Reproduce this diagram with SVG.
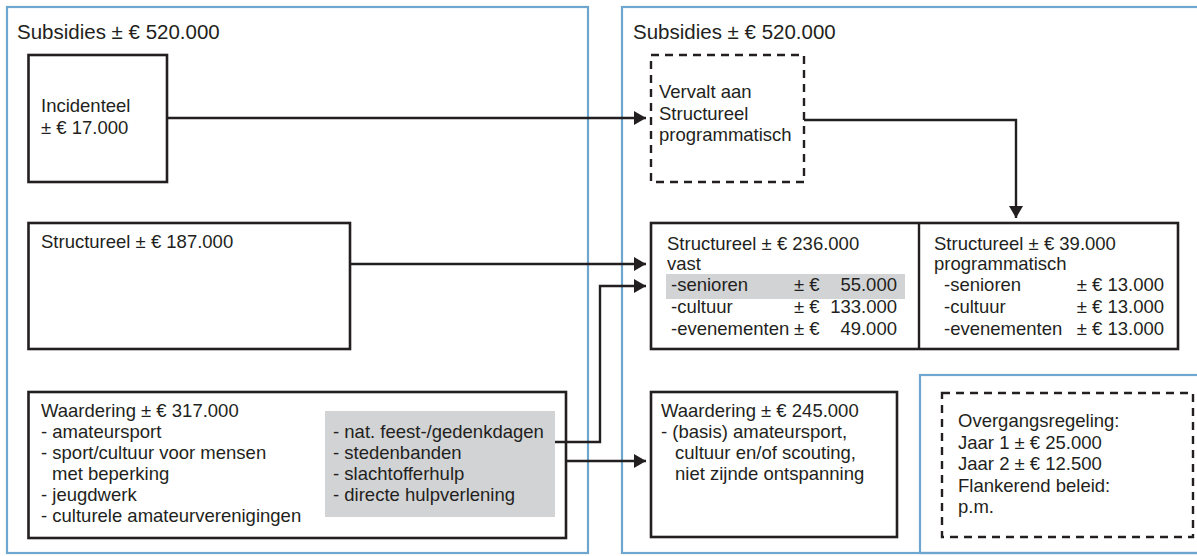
<svg xmlns="http://www.w3.org/2000/svg" width="1197" height="556" viewBox="0 0 1197 556">
<style>
text{font-family:"Liberation Sans",Arial,sans-serif;font-size:18.5px;fill:#231f20}
.title{font-size:20.5px}
.blue{fill:none;stroke:#6ea6cf;stroke-width:2.2}
.box{fill:#fff;stroke:#231f20;stroke-width:2.6}
.dash{fill:#fff;stroke:#231f20;stroke-width:2.4;stroke-dasharray:8 6}
.gray{fill:#d2d3d5}
.con{fill:none;stroke:#231f20;stroke-width:2.4}
.end{text-anchor:end}
</style>
<defs>
<marker id="arr" markerUnits="userSpaceOnUse" markerWidth="13" markerHeight="14" refX="12" refY="7" orient="auto">
<path d="M0,0 L12,7 L0,14 z" fill="#231f20"/>
</marker>
</defs>
<rect width="1197" height="556" fill="#fff"/>
<g id="panel-left">
<rect class="blue" x="7" y="7" width="581" height="546"/>
<text class="title" x="17" y="39">Subsidies ± € 520.000</text>
</g>
<g id="panel-right">
<rect class="blue" x="622" y="7" width="590" height="546"/>
<text class="title" x="633" y="39">Subsidies ± € 520.000</text>
</g>
<g id="panel-transition">
<rect class="blue" x="920" y="375" width="290" height="178" fill="#fff"/>
</g>
<g id="incidenteel">
<rect class="box" x="28.5" y="55" width="138.5" height="127"/>
<text x="41" y="112">Incidenteel</text>
<text x="41" y="133.5">± € 17.000</text>
</g>
<g id="vervalt">
<rect class="dash" x="651" y="55" width="153" height="127"/>
<text x="659" y="98">Vervalt aan</text>
<text x="659" y="119.5">Structureel</text>
<text x="659" y="141">programmatisch</text>
</g>
<g id="structureel-oud">
<rect class="box" x="28.5" y="223" width="321.5" height="126"/>
<text x="41" y="248">Structureel ± € 187.000</text>
</g>
<g id="structureel-nieuw">
<rect class="box" x="651" y="223" width="527" height="126"/>
<line x1="919" y1="223" x2="919" y2="349" stroke="#231f20" stroke-width="2.4"/>
<rect class="gray" x="666" y="274" width="239" height="25"/>
<text x="667" y="250">Structureel ± € 236.000</text>
<text x="667" y="270">vast</text>
<text x="671" y="291">-senioren</text>
<text x="794" y="291">± €</text>
<text class="end" x="897" y="291">55.000</text>
<text x="671" y="313">-cultuur</text>
<text x="794" y="313">± €</text>
<text class="end" x="897" y="313">133.000</text>
<text x="671" y="335">-evenementen</text>
<text x="794" y="335">± €</text>
<text class="end" x="897" y="335">49.000</text>
<text x="934" y="250">Structureel ± € 39.000</text>
<text x="934" y="270">programmatisch</text>
<text x="944" y="291">-senioren</text>
<text class="end" x="1164" y="291">± € 13.000</text>
<text x="944" y="313">-cultuur</text>
<text class="end" x="1164" y="313">± € 13.000</text>
<text x="944" y="335">-evenementen</text>
<text class="end" x="1164" y="335">± € 13.000</text>
</g>
<g id="waardering-oud">
<rect class="box" x="28.5" y="392" width="537.5" height="146"/>
<rect class="gray" x="325" y="411" width="230" height="106"/>
<text x="41" y="417">Waardering ± € 317.000</text>
<text x="41" y="438">- amateursport</text>
<text x="41" y="459">- sport/cultuur voor mensen</text>
<text x="52" y="480">met beperking</text>
<text x="41" y="501">- jeugdwerk</text>
<text x="41" y="522">- culturele amateurverenigingen</text>
<text x="333" y="438">- nat. feest-/gedenkdagen</text>
<text x="333" y="459">- stedenbanden</text>
<text x="333" y="480">- slachtofferhulp</text>
<text x="333" y="501">- directe hulpverlening</text>
</g>
<g id="waardering-nieuw">
<rect class="box" x="651" y="392" width="246" height="145"/>
<text x="661" y="417">Waardering ± € 245.000</text>
<text x="661" y="437.5">- (basis) amateursport,</text>
<text x="675" y="458.5">cultuur en/of scouting,</text>
<text x="675" y="479.5">niet zijnde ontspanning</text>
</g>
<g id="overgangsregeling">
<rect class="dash" x="942" y="393" width="251" height="144"/>
<text x="958" y="427">Overgangsregeling:</text>
<text x="958" y="448.5">Jaar 1 ± € 25.000</text>
<text x="958" y="470">Jaar 2 ± € 12.500</text>
<text x="958" y="491.5">Flankerend beleid:</text>
<text x="958" y="513">p.m.</text>
</g>
<g id="connectors">
<path class="con" d="M167,118 H646" marker-end="url(#arr)"/>
<path class="con" d="M804,120 H1016 V218" marker-end="url(#arr)"/>
<path class="con" d="M350,264 H646" marker-end="url(#arr)"/>
<path class="con" d="M555,442 H600 V286 H646" marker-end="url(#arr)"/>
<path class="con" d="M566,461 H646" marker-end="url(#arr)"/>
</g>
</svg>
